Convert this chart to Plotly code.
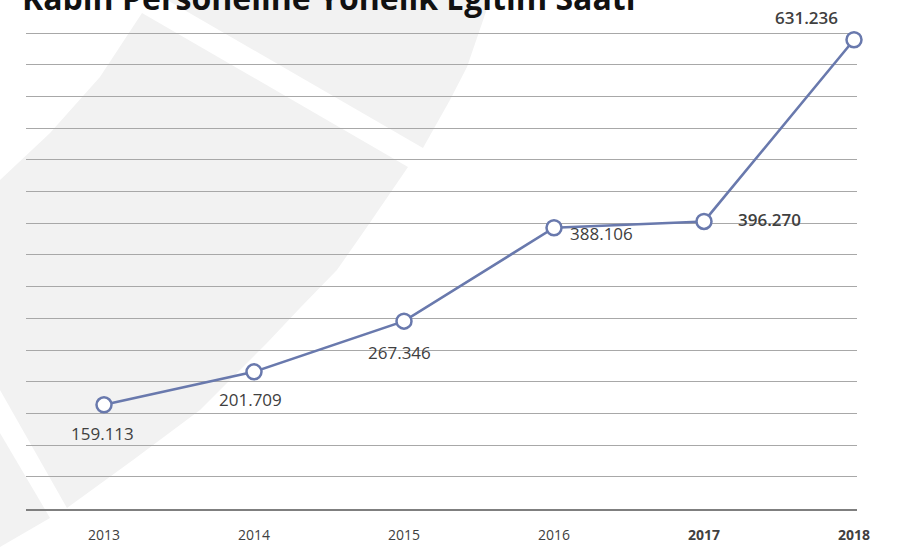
import plotly.graph_objects as go

# Kabin personeline yönelik eğitim saatleri (yıllara göre)
years = [2013, 2014, 2015, 2016, 2017, 2018]
hours = [159113, 201709, 267346, 388106, 396270, 631236]
value_labels = ["159.113", "201.709", "267.346", "388.106", "396.270", "631.236"]
year_labels = ["2013", "2014", "2015", "2016", "<b>2017</b>", "<b>2018</b>"]
title_text = "Kabin Personeline Yönelik Eğitim Saati"

W, H = 902, 547
L, R, T, B = 26, 857, 31, 509          # plot area in pixels
LINE = "#6979ad"
TEXT = "#404040"
FONT = "Open Sans"


def px(x, y):
    """Pixel position -> paper coordinates."""
    return (x - L) / (R - L), (B - y) / (B - T)


def path(points):
    parts = []
    for i, (x, y) in enumerate(points):
        u, v = px(x, y)
        parts.append(("M" if i == 0 else "L") + f"{u:.4f},{v:.4f}")
    return " ".join(parts) + " Z"


# light background emblem
emblem = [
    [(167, 0), (490, 0), (478, 35), (467, 67), (450, 100), (423, 148)],
    [(142, 13), (408, 167), (367, 227), (337, 270), (300, 308), (267, 343),
     (200, 410), (133, 460), (67, 508), (0, 390), (0, 180), (50, 133), (100, 77)],
    [(0, 433), (50, 518), (0, 547)],
]
shapes = [dict(type="path", xref="paper", yref="paper", path=path(p),
               fillcolor="#f2f2f2", line=dict(width=0), layer="below")
          for p in emblem]

fig = go.Figure()
fig.add_trace(go.Scatter(
    x=years, y=hours, mode="lines+markers",
    line=dict(color=LINE, width=2.6),
    marker=dict(size=15, color="white", line=dict(color=LINE, width=2.5)),
    cliponaxis=False, hoverinfo="skip", showlegend=False,
))

# value labels beside each point
offsets = [  # (xanchor, xshift, yshift, bold)
    ("center", -2, -29, False),
    ("center", -4, -28, False),
    ("center", -5, -31, False),
    ("left", 14, -6, False),
    ("left", 32, 2, True),
    ("center", -48, 22, True),
]
annotations = []
for yr, v, lab, (xa, dx, dy, bold) in zip(years, hours, value_labels, offsets):
    annotations.append(dict(
        x=yr, y=v, xref="x", yref="y", text=lab, showarrow=False,
        xanchor=xa, yanchor="middle", xshift=dx, yshift=dy,
        font=dict(family=FONT, size=17, color=TEXT, weight=600 if bold else 400),
    ))

tx, ty = px(20, 21)
annotations.append(dict(
    x=tx, y=ty, xref="paper", yref="paper", text=f"<b>{title_text}</b>",
    showarrow=False, xanchor="left", yanchor="bottom",
    font=dict(family=FONT, size=32, color="#111111"),
))

x0 = 2013 - (104 - L) / 150
x1 = 2013 + (R - 104) / 150

# y range chosen so the grid spacing is 41 000 between 25 000 and 640 000
y_lo = 25000 - 0.5 * 41000 / 31.7
y_hi = 640000 + 2.0 * 41000 / 31.7

fig.update_layout(
    width=W, height=H,
    margin=dict(l=L, r=W - R, t=T, b=H - B),
    paper_bgcolor="white", plot_bgcolor="rgba(0,0,0,0)",
    shapes=shapes, annotations=annotations,
    xaxis=dict(range=[x0, x1], tickvals=years, ticktext=year_labels,
               showgrid=False, zeroline=False, showline=True,
               linecolor="#7f7f7f", linewidth=2, ticks="",
               ticklabelstandoff=12, automargin=False,
               tickfont=dict(family=FONT, size=14, color=TEXT)),
    yaxis=dict(range=[y_lo, y_hi], tick0=25000, dtick=41000,
               showgrid=True, gridcolor="#a8a8a8", gridwidth=1.2,
               zeroline=False, showline=False, showticklabels=False, ticks="",
               automargin=False),
)

fig.write_html("out.html")
